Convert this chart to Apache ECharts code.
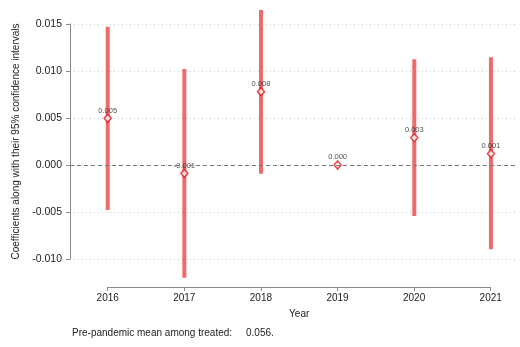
<!DOCTYPE html>
<html>
<head>
<meta charset="utf-8">
<script src="https://cdn.jsdelivr.net/npm/echarts@6/dist/echarts.min.js"></script>
<style>
  html, body { margin: 0; padding: 0; background: #fff; }
  #chart { width: 520px; height: 347px; }
</style>
</head>
<body>
<div id="chart"></div>
<script>
// Event-study coefficients by year with 95% confidence intervals
const years = [2016, 2017, 2018, 2019, 2020, 2021];
const coefs = [0.00497, -0.00089, 0.0078, 0.0, 0.0029, 0.0012];
const ciLow = [-0.0048, -0.0120, -0.00092, null, -0.00543, -0.00897];
const ciHigh = [0.0147, 0.0102, 0.0165, null, 0.01124, 0.01146];
const yTicks = [-0.010, -0.005, 0.000, 0.005, 0.010, 0.015];
const noteLabel = 'Pre-pandemic mean among treated:';
const noteValue = '0.056.';

const FONT = '"Liberation Sans", Arial, Helvetica, sans-serif';
const chart = echarts.init(document.getElementById('chart'), null, { renderer: 'canvas' });

const ciData = years.map((y, i) => [y, ciLow[i], ciHigh[i]]).filter(d => d[1] !== null);
const pointData = years.map((y, i) => [y, coefs[i]]);

chart.setOption({
  animation: false,
  backgroundColor: '#fff',
  textStyle: { fontFamily: FONT },
  grid: [
    { left: 70, right: 3, top: 24, bottom: 88 },
    { left: 107.7, right: 29.3, top: 286, height: 1 }
  ],
  xAxis: [
    {
      gridIndex: 0, type: 'value', min: 2015.508, max: 2021.34,
      axisLine: { show: false }, axisTick: { show: false },
      axisLabel: { show: false }, splitLine: { show: false }
    },
    {
      gridIndex: 1, type: 'value', min: 2016, max: 2021, interval: 1,
      name: 'Year', nameLocation: 'middle', nameGap: 22,
      nameTextStyle: { fontFamily: FONT, fontSize: 10, color: '#222' },
      axisLine: { show: true, lineStyle: { color: '#8a8a8a', width: 1 } },
      axisTick: { show: true, length: 4, lineStyle: { color: '#8a8a8a' } },
      axisLabel: { fontFamily: FONT, fontSize: 10, color: '#222', margin: 6,
        formatter: v => String(v) },
      splitLine: { show: false }
    }
  ],
  yAxis: [
    {
      gridIndex: 0, type: 'value', min: -0.010, max: 0.015, interval: 0.005,
      name: 'Coefficients along with their 95% confidence intervals',
      nameLocation: 'middle', nameGap: 44,
      nameTextStyle: { fontFamily: FONT, fontSize: 10, color: '#222' },
      axisLine: { show: true, lineStyle: { color: '#8a8a8a', width: 1 } },
      axisTick: { show: true, length: 4, lineStyle: { color: '#8a8a8a' } },
      axisLabel: { fontFamily: FONT, fontSize: 10.5, color: '#222', margin: 8,
        customValues: yTicks,
        formatter: v => v.toFixed(3) },
      splitLine: { show: true, lineStyle: { color: '#c8c8c8', type: [1, 3], width: 1 } }
    },
    {
      gridIndex: 1, type: 'value', show: false
    }
  ],
  series: [
    {
      type: 'custom',
      xAxisIndex: 0, yAxisIndex: 0,
      clip: false,
      data: ciData,
      renderItem: (params, api) => {
        const lo = api.coord([api.value(0), api.value(1)]);
        const hi = api.coord([api.value(0), api.value(2)]);
        return {
          type: 'line',
          shape: { x1: lo[0], y1: lo[1], x2: hi[0], y2: hi[1] },
          style: { stroke: '#ef6a6a', lineWidth: 4 }
        };
      },
      z: 2
    },
    {
      type: 'scatter',
      xAxisIndex: 0, yAxisIndex: 0,
      clip: false,
      data: pointData,
      symbol: 'diamond',
      symbolSize: [7, 8],
      itemStyle: { color: '#fff', borderColor: '#e3141c', borderWidth: 1.5 },
      label: {
        show: true, position: 'top', distance: -1,
        fontFamily: FONT, fontSize: 7.5, color: '#222',
        formatter: p => {
          const s = p.value[1].toFixed(3);
          return s === '-0.000' ? '0.000' : s;
        }
      },
      markLine: {
        silent: true, symbol: 'none', label: { show: false },
        lineStyle: { color: '#777', type: [4, 3], width: 1 },
        data: [{ yAxis: 0 }]
      },
      z: 4
    }
  ],
  graphic: [
    {
      type: 'text', left: 72, top: 328,
      style: { text: noteLabel, font: '10px ' + FONT, fill: '#222' }
    },
    {
      type: 'text', left: 246, top: 328,
      style: { text: noteValue, font: '10px ' + FONT, fill: '#222' }
    }
  ]
});
</script>
</body>
</html>
